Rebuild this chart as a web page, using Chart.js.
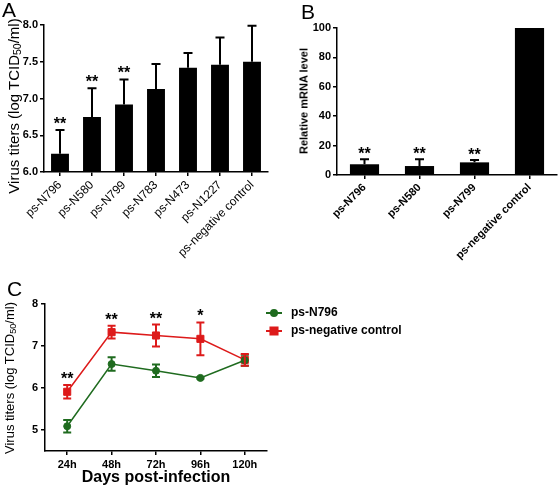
<!doctype html>
<html lang="en">
  <head>
    <meta charset="UTF-8" />
    <title>Virus titers and mRNA level</title>
    <script src="https://cdn.jsdelivr.net/npm/chart.js"></script>
    <style>
      body {
        margin: 0;
        background: #fff;
        font-family: "Liberation Sans", Arial, sans-serif;
        color: #000;
      }
      .figure {
        position: relative;
        width: 560px;
        height: 487px;
        overflow: hidden;
      }
      canvas {
        position: absolute;
      }
      .panel {
        position: absolute;
        font-size: 21px;
        line-height: 1;
      }
      .ytitle {
        position: absolute;
        white-space: nowrap;
        line-height: 1;
        transform: translate(-50%, -50%) rotate(-90deg);
      }
      .ytitle sub {
        font-size: 0.7em;
        vertical-align: -0.25em;
        line-height: 0;
      }
    </style>
  </head>
  <body>
    <div class="figure">
      <canvas id="chartA" width="280" height="300" style="left:0;top:0"></canvas>
      <canvas id="chartB" width="280" height="300" style="left:280px;top:0"></canvas>
      <canvas id="chartC" width="560" height="197" style="left:0;top:290px"></canvas>

      <div class="panel" style="left:2px;top:-1px">A</div>
      <div class="panel" style="left:301px;top:1px">B</div>
      <div class="panel" style="left:7px;top:278px">C</div>

      <div class="ytitle" style="left:13px;top:106px;font-size:15px">Virus titers (log TCID<sub>50</sub>/ml)</div>
      <div class="ytitle" style="left:304px;top:101px;font-size:11px;font-weight:bold">Relative mRNA level</div>
      <div class="ytitle" style="left:9px;top:378px;font-size:13px">Virus titers (log TCID<sub>50</sub>/ml)</div>
    </div>

    <script>
      // panel A: virus titers per shRNA
      const labelsA = ["ps-N796", "ps-N580", "ps-N799", "ps-N783", "ps-N473", "ps-N1227", "ps-negative control"];
      const titersA = [6.25, 6.75, 6.92, 7.13, 7.42, 7.46, 7.5];
      const errA = [0.32, 0.39, 0.34, 0.34, 0.2, 0.37, 0.49];
      const starsA = ["**", "**", "**", "", "", "", ""];

      // panel B: relative mRNA level
      const labelsB = ["ps-N796", "ps-N580", "ps-N799", "ps-negative control"];
      const mrnaB = [7.3, 6.1, 8.6, 100];
      const errB = [3.4, 4.6, 1.6, 0];
      const starsB = ["**", "**", "**", ""];

      // panel C: time course
      const timesC = ["24h", "48h", "72h", "96h", "120h"];
      const n796C = [5.09, 6.57, 6.41, 6.24, 6.66];
      const n796ErrC = [0.15, 0.16, 0.15, 0.02, 0.13];
      const controlC = [5.91, 7.33, 7.25, 7.17, 6.67];
      const controlErrC = [0.16, 0.15, 0.26, 0.39, 0.14];
      const starsC = ["**", "**", "**", "*", ""];

      const FONT = "'Liberation Sans', Arial, sans-serif";
      const GREEN = "#1f6b1f";
      const RED = "#dd1a1a";

      // vertical error bars from dataset.errors
      const errorBars = {
        id: "errorBars",
        afterDatasetsDraw(chart) {
          const ctx = chart.ctx;
          const y = chart.scales.y;
          chart.data.datasets.forEach((ds, i) => {
            if (!ds.errors) return;
            const meta = chart.getDatasetMeta(i);
            const half = ds.capWidth / 2;
            ctx.save();
            ctx.strokeStyle = ds.errorColor || "#000";
            ctx.lineWidth = 2;
            meta.data.forEach((el, j) => {
              const v = ds.data[j];
              const e = ds.errors[j];
              if (!e) return;
              const top = y.getPixelForValue(v + e);
              const bot = y.getPixelForValue(ds.upOnly ? v : v - e);
              ctx.beginPath();
              ctx.moveTo(el.x, bot);
              ctx.lineTo(el.x, top);
              ctx.moveTo(el.x - half, top);
              ctx.lineTo(el.x + half, top);
              if (!ds.upOnly) {
                ctx.moveTo(el.x - half, bot);
                ctx.lineTo(el.x + half, bot);
              }
              ctx.stroke();
            });
            ctx.restore();
          });
        }
      };

      // significance stars above the error bar
      const starMarks = {
        id: "starMarks",
        afterDatasetsDraw(chart, args, opts) {
          if (!opts.labels) return;
          const ctx = chart.ctx;
          const ds = chart.data.datasets[opts.datasetIndex];
          const meta = chart.getDatasetMeta(opts.datasetIndex);
          const y = chart.scales.y;
          ctx.save();
          ctx.fillStyle = "#000";
          ctx.font = "bold 16px " + FONT;
          ctx.textAlign = "center";
          ctx.textBaseline = "alphabetic";
          meta.data.forEach((el, j) => {
            const t = opts.labels[j];
            if (!t) return;
            const top = y.getPixelForValue(ds.data[j] + (ds.errors[j] || 0));
            ctx.fillText(t, el.x, top + opts.shift);
          });
          ctx.restore();
        }
      };

      Chart.register(errorBars, starMarks);

      function axisStyle() {
        return {
          border: { display: true, color: "#000", width: 1.5 },
          grid: {
            display: true,
            drawOnChartArea: false,
            drawTicks: true,
            tickLength: 4,
            color: "#000",
            lineWidth: 1.5,
            offset: false
          }
        };
      }

      // ---- A ----
      new Chart(document.getElementById("chartA"), {
        type: "bar",
        data: {
          labels: labelsA,
          datasets: [
            {
              data: titersA,
              errors: errA,
              upOnly: true,
              capWidth: 9,
              backgroundColor: "#000",
              categoryPercentage: 1,
              barPercentage: 0.56
            }
          ]
        },
        options: {
          responsive: false,
          animation: false,
          layout: { padding: { top: 25, right: 12, left: 0, bottom: 0 } },
          plugins: {
            legend: { display: false },
            tooltip: { enabled: false },
            starMarks: { labels: starsA, datasetIndex: 0, shift: -1.5 }
          },
          scales: {
            x: {
              ...axisStyle(),
              afterFit: (s) => { s.height = 128; },
              ticks: {
                color: "#000",
                minRotation: 45,
                maxRotation: 45,
                autoSkip: false,
                padding: 2,
                font: { family: FONT, size: 12 }
              }
            },
            y: {
              ...axisStyle(),
              min: 6,
              max: 8,
              afterFit: (s) => { s.width = 44; },
              ticks: {
                stepSize: 0.5,
                color: "#000",
                padding: 2,
                font: { family: FONT, size: 11, weight: "bold" },
                callback: (v) => v.toFixed(1)
              }
            }
          }
        }
      });

      // ---- B ----
      new Chart(document.getElementById("chartB"), {
        type: "bar",
        data: {
          labels: labelsB,
          datasets: [
            {
              data: mrnaB,
              errors: errB,
              upOnly: true,
              capWidth: 9,
              backgroundColor: "#000",
              categoryPercentage: 1,
              barPercentage: 0.53
            }
          ]
        },
        options: {
          responsive: false,
          animation: false,
          layout: { padding: { top: 28, right: 3, left: 0, bottom: 0 } },
          plugins: {
            legend: { display: false },
            tooltip: { enabled: false },
            starMarks: { labels: starsB, datasetIndex: 0, shift: 0 }
          },
          scales: {
            x: {
              ...axisStyle(),
              afterFit: (s) => { s.height = 125; },
              ticks: {
                color: "#000",
                minRotation: 45,
                maxRotation: 45,
                autoSkip: false,
                padding: 2,
                font: { family: FONT, size: 11, weight: "bold" }
              }
            },
            y: {
              ...axisStyle(),
              min: 0,
              max: 100,
              afterFit: (s) => { s.width = 57; },
              ticks: {
                stepSize: 20,
                color: "#000",
                padding: 2,
                font: { family: FONT, size: 11, weight: "bold" }
              }
            }
          }
        }
      });

      // ---- C ----
      const lineLegend = {
        id: "lineLegend",
        afterDraw(chart) {
          const ctx = chart.ctx;
          const x0 = chart.chartArea.right - 1;
          chart.data.datasets.forEach((ds, i) => {
            const yy = 23 + i * 18;
            ctx.save();
            ctx.strokeStyle = ds.borderColor;
            ctx.fillStyle = ds.borderColor;
            ctx.lineWidth = 2;
            ctx.beginPath();
            ctx.moveTo(x0, yy);
            ctx.lineTo(x0 + 16, yy);
            ctx.stroke();
            Chart.helpers.drawPoint(ctx, { pointStyle: ds.pointStyle, radius: ds.legendRadius, borderWidth: 1 }, x0 + 8, yy);
            ctx.fillStyle = "#000";
            ctx.font = "bold 12px " + FONT;
            ctx.textAlign = "left";
            ctx.textBaseline = "middle";
            ctx.fillText(ds.label, x0 + 25, yy);
            ctx.restore();
          });
        }
      };

      new Chart(document.getElementById("chartC"), {
        type: "line",
        data: {
          labels: timesC,
          datasets: [
            {
              label: "ps-N796",
              data: n796C,
              errors: n796ErrC,
              errorColor: GREEN,
              capWidth: 8,
              borderColor: GREEN,
              backgroundColor: GREEN,
              borderWidth: 1.5,
              pointStyle: "circle",
              pointRadius: 3.5,
              legendRadius: 3,
              pointBorderWidth: 1
            },
            {
              label: "ps-negative control",
              data: controlC,
              errors: controlErrC,
              errorColor: RED,
              capWidth: 8,
              borderColor: RED,
              backgroundColor: RED,
              borderWidth: 1.5,
              pointStyle: "rect",
              pointRadius: 5,
              legendRadius: 5,
              pointBorderWidth: 1
            }
          ]
        },
        options: {
          responsive: false,
          animation: false,
          layout: { padding: { top: 14, right: 293, left: 0, bottom: 0 } },
          plugins: {
            legend: { display: false },
            tooltip: { enabled: false },
            starMarks: { labels: starsC, datasetIndex: 1, shift: -1 }
          },
          scales: {
            x: {
              ...axisStyle(),
              offset: true,
              afterFit: (s) => { s.height = 36; },
              ticks: {
                color: "#000",
                maxRotation: 0,
                padding: 3,
                font: { family: FONT, size: 11, weight: "bold" }
              },
              title: {
                display: true,
                text: "Days post-infection",
                color: "#000",
                padding: { top: 0, bottom: 0 },
                font: { family: FONT, size: 16, weight: "bold" }
              }
            },
            y: {
              ...axisStyle(),
              min: 4.5,
              max: 8,
              afterFit: (s) => { s.width = 45; },
              afterBuildTicks: (s) => {
                s.ticks = [5, 6, 7, 8].map((v) => ({ value: v }));
              },
              ticks: {
                color: "#000",
                padding: 3,
                font: { family: FONT, size: 11, weight: "bold" }
              }
            }
          }
        },
        plugins: [lineLegend]
      });
    </script>
  </body>
</html>
